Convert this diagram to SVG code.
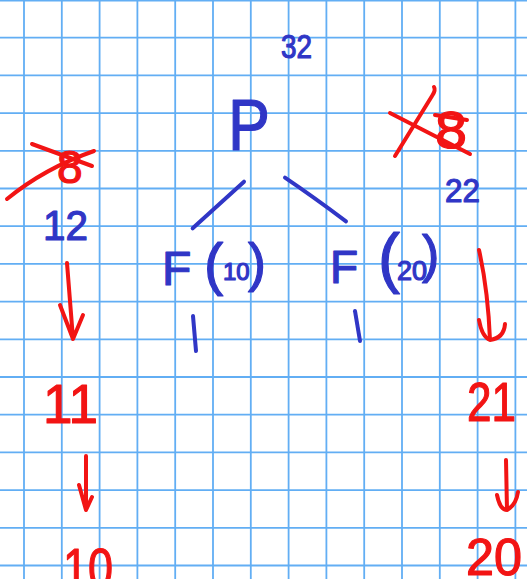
<svg xmlns="http://www.w3.org/2000/svg" width="527" height="579" viewBox="0 0 527 579">
<defs>
<style>
.grid{stroke:#62aef4;stroke-width:1.8;fill:none}
.b{fill:#3036c6;stroke:#3036c6;stroke-width:1.2;stroke-linejoin:round;font-family:"Liberation Sans",Arial,sans-serif}
.r{fill:#f21414;stroke:#f21414;stroke-width:1.2;stroke-linejoin:round;font-family:"Liberation Sans",Arial,sans-serif}
.bs{stroke:#3036c6;stroke-width:4;fill:none;stroke-linecap:round;stroke-linejoin:round}
.rs{stroke:#f21414;stroke-width:4;fill:none;stroke-linecap:round;stroke-linejoin:round}
</style>
</defs>
<rect width="527" height="579" fill="#ffffff"/>
<g id="grid" class="grid">
<path d="M24,0V579M61.8,0V579M99.6,0V579M137.4,0V579M175.2,0V579M213,0V579M250.8,0V579M288.6,0V579M326.4,0V579M364.2,0V579M402,0V579M439.8,0V579M477.6,0V579M515.4,0V579"/>
<path d="M0,0.7H527M0,37.7H527M0,75.4H527M0,113.1H527M0,150.8H527M0,188.5H527M0,226.2H527M0,263.9H527M0,301.6H527M0,339.3H527M0,377H527M0,414.7H527M0,452.4H527M0,490.1H527M0,527.8H527M0,565.5H527"/>
</g>
<g id="connectors">
<path class="bs" d="M192.7,228.3 L244,181.7"/>
<path class="bs" d="M285,177.7 Q312,196 346,221.3"/>
<path class="bs" d="M193,316 L196,351"/>
<path class="bs" d="M355,311 L360,341"/>
<path class="rs" d="M67,263 L73,339 M60,305 L73,339 L83,315"/>
<path class="rs" d="M86,456 L86,510 M79,485 L86,510 L92,497"/>
<path class="rs" d="M479,250 Q488,290 490,340 M479,320 Q482,337 490,340 Q504,338 505,324"/>
<path class="rs" d="M506,460 L507,510 M497,495 Q500,510 507,510 Q516,505 518,492"/>
</g>
<g id="node-cost-root"><text class="b" x="281" y="58" font-size="34" textLength="31" lengthAdjust="spacingAndGlyphs">32</text></g>
<g id="node-P"><text class="b" x="228" y="150" font-size="72" textLength="42" lengthAdjust="spacingAndGlyphs">P</text></g>
<g id="node-F10"><text class="b"><tspan x="162" y="285" font-size="48">F</tspan><tspan x="204" y="284" font-size="58">(</tspan><tspan x="223" y="280" font-size="24">10</tspan><tspan x="248" y="281" font-size="54">)</tspan></text></g>
<g id="node-F20"><text class="b"><tspan x="330" y="283" font-size="46">F</tspan><tspan x="378" y="280" font-size="66">(</tspan><tspan x="397" y="280" font-size="27">20</tspan><tspan x="422" y="272" font-size="52">)</tspan></text></g>
<g id="node-left-old"><text class="r" x="57" y="183" font-size="46">8</text>
<path class="rs" d="M32,144 L92,166 M7,199 Q45,168 94,151"/></g>
<g id="node-12"><text class="b" x="43" y="240" font-size="42" textLength="45" lengthAdjust="spacingAndGlyphs">12</text></g>
<g id="node-11"><text class="r" x="43" y="423" font-size="56" textLength="55" lengthAdjust="spacingAndGlyphs">11</text></g>
<g id="node-10"><text class="r" x="63" y="587" font-size="56" textLength="50" lengthAdjust="spacingAndGlyphs">10</text></g>
<g id="node-right-old"><text class="r" x="435" y="148" font-size="52" textLength="32" lengthAdjust="spacingAndGlyphs">8</text>
<path class="rs" d="M390,113 L470,154 M395,156 L432,96 Q436,90 434,87 M435,115 L467,120"/></g>
<g id="node-22"><text class="b" x="445" y="202" font-size="34" textLength="35" lengthAdjust="spacingAndGlyphs">22</text></g>
<g id="node-21"><text class="r" x="467" y="421" font-size="56" textLength="49" lengthAdjust="spacingAndGlyphs">21</text></g>
<g id="node-20"><text class="r" x="466" y="575" font-size="52" textLength="56" lengthAdjust="spacingAndGlyphs">20</text></g>
</svg>
